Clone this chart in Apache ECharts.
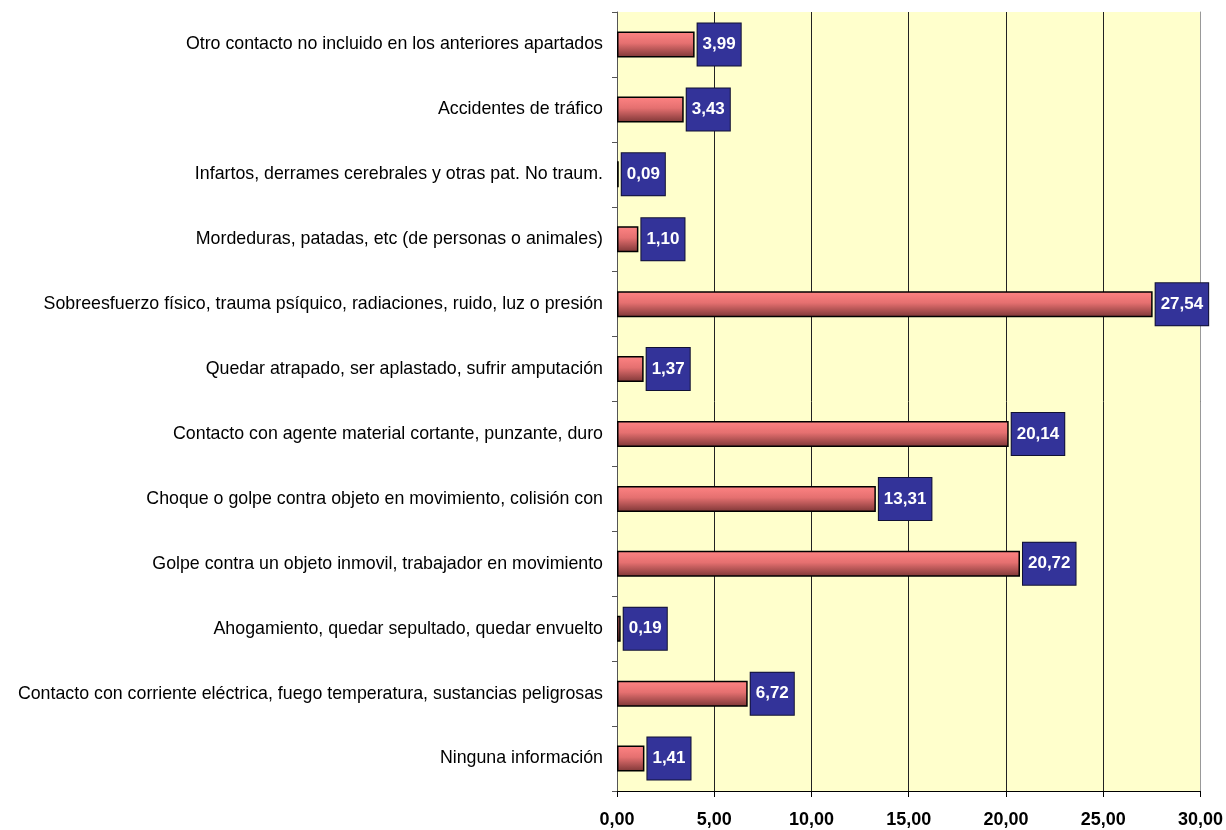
<!DOCTYPE html>
<html><head><meta charset="utf-8">
<script src="https://cdn.jsdelivr.net/npm/echarts@6/dist/echarts.min.js"></script>
<style>html,body{margin:0;padding:0;background:#fff;}#c{width:1226px;height:830px;}</style>
</head><body><div id="c"></div>
<script>
const categories = [
  "Otro contacto no incluido en los anteriores apartados",
  "Accidentes de tráfico",
  "Infartos, derrames cerebrales y otras pat. No traum.",
  "Mordeduras, patadas, etc (de personas o animales)",
  "Sobreesfuerzo físico, trauma psíquico, radiaciones, ruido, luz o presión",
  "Quedar atrapado, ser aplastado, sufrir amputación",
  "Contacto con agente material cortante, punzante, duro",
  "Choque o golpe contra objeto en movimiento, colisión con",
  "Golpe contra un objeto inmovil, trabajador en movimiento",
  "Ahogamiento, quedar sepultado, quedar envuelto",
  "Contacto con corriente eléctrica, fuego temperatura, sustancias peligrosas",
  "Ninguna información"
];
const values = [3.99, 3.43, 0.09, 1.10, 27.54, 1.37, 20.14, 13.31, 20.72, 0.19, 6.72, 1.41];
const xMin = 0, xMax = 30, xStep = 5;

const fmt = v => v.toFixed(2).replace('.', ',');
const chart = echarts.init(document.getElementById('c'), null, {renderer: 'canvas'});
chart.setOption({
  animation: false,
  textStyle: {fontFamily: 'Liberation Sans, Arial, sans-serif'},
  grid: {left: 617, top: 12, right: 22, bottom: 39, show: true, backgroundColor: '#ffffcc', borderWidth: 0},
  xAxis: {
    type: 'value', min: xMin, max: xMax, interval: xStep,
    axisLine: {show: true, lineStyle: {color: '#000', width: 1}},
    axisTick: {show: true, length: 6, lineStyle: {color: '#000'}},
    axisLabel: {formatter: v => fmt(v), color: '#000', fontWeight: 'bold', fontSize: 18, margin: 20},
    splitLine: {show: true, lineStyle: {color: '#222', width: 1}}
  },
  yAxis: [{
    type: 'category', data: categories, inverse: true,
    axisLine: {show: true, lineStyle: {color: '#555', width: 1}},
    axisTick: {show: true, length: 5, lineStyle: {color: '#555'}},
    axisLabel: {color: '#000', fontSize: 17.8, margin: 14}
  }, {
    type: 'category', data: categories, inverse: true, position: 'right',
    axisLine: {show: true, lineStyle: {color: '#999', width: 1}},
    axisTick: {show: false}, axisLabel: {show: false}
  }],
  series: [{
    type: 'bar', data: values, barWidth: 26,
    itemStyle: {
      color: new echarts.graphic.LinearGradient(0, 0, 0, 1, [
        {offset: 0, color: '#ff8484'},
        {offset: 0.45, color: '#e57070'},
        {offset: 1, color: '#7d3636'}
      ]),
      borderColor: '#000', borderWidth: 1.5
    },
    label: {
      show: true, position: 'right', distance: 3,
      formatter: p => fmt(p.value),
      color: '#fff', fontWeight: 'bold', fontSize: 17, lineHeight: 18,
      backgroundColor: '#333399', borderColor: '#111133', borderWidth: 1,
      padding: [12, 5, 12, 5]
    }
  }]
});
</script></body></html>
